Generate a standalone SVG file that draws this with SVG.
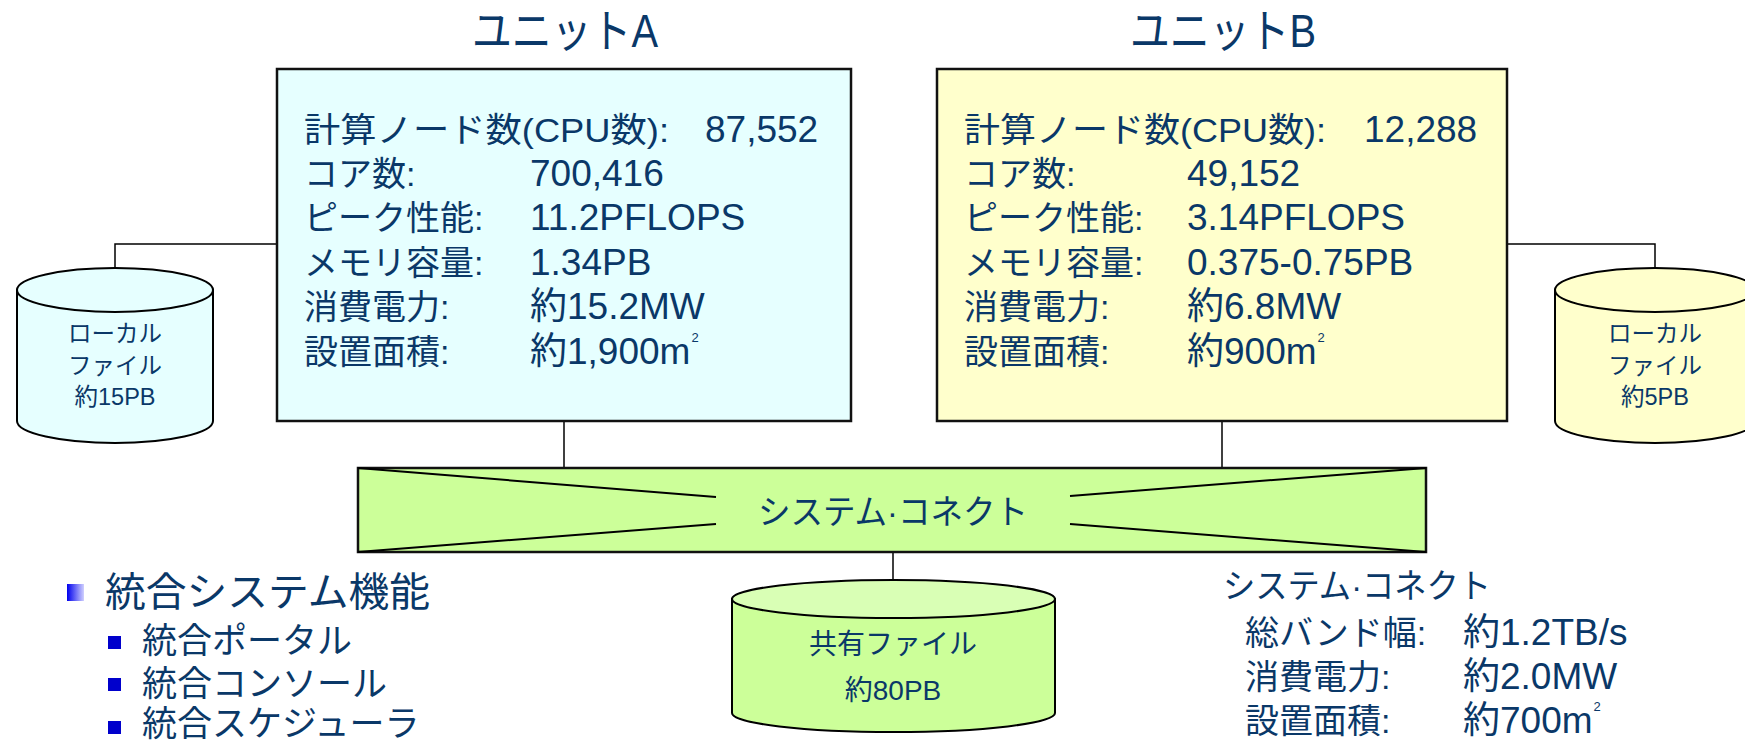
<svg xmlns="http://www.w3.org/2000/svg" width="1745" height="742" viewBox="0 0 1745 742">
<style>
text{font-family:"Liberation Sans","Noto Sans CJK JP",sans-serif;fill:#0a3868}
.t{font-size:46px;text-anchor:middle}
.b{font-size:34px}
.v{font-size:37px}
.c{font-size:23.5px;text-anchor:middle}
.box{stroke:#111;stroke-width:2.5}
.cyl{stroke:#000;stroke-width:2}
.ln{stroke:#000;stroke-width:1.5;fill:none}
.dg{stroke:#000;stroke-width:2;fill:none}
.sup{font-size:13px}
</style>
<defs>
<linearGradient id="bul" x1="0" y1="0" x2="1" y2="0">
<stop offset="0" stop-color="#0000ee"/>
<stop offset="1" stop-color="#d0d0ff"/>
</linearGradient>
</defs>
<g id="connectors">
<polyline class="ln" points="277,244 115,244 115,268"/>
<polyline class="ln" points="1507,244 1655,244 1655,268"/>
<line class="ln" x1="564" y1="421" x2="564" y2="468"/>
<line class="ln" x1="1222" y1="421" x2="1222" y2="468"/>
<line class="ln" x1="893" y1="552" x2="893" y2="580"/>
</g>
<g id="unitA">
<text class="t" x="565" y="47" textLength="186" lengthAdjust="spacingAndGlyphs">ユニットA</text>
<rect class="box" x="277" y="69" width="574" height="352" fill="#e6ffff"/>
<text class="b" x="304" y="142" textLength="365" lengthAdjust="spacingAndGlyphs">計算ノード数(CPU数):</text>
<text class="v" x="705" y="142">87,552</text>
<text class="b" x="304" y="186">コア数:</text>
<text class="v" x="530" y="186">700,416</text>
<text class="b" x="304" y="230">ピーク性能:</text>
<text class="v" x="530" y="230">11.2PFLOPS</text>
<text class="b" x="304" y="275">メモリ容量:</text>
<text class="v" x="530" y="275">1.34PB</text>
<text class="b" x="304" y="319">消費電力:</text>
<text class="v" x="530" y="319">約15.2MW</text>
<text class="b" x="304" y="364">設置面積:</text>
<text class="v" x="530" y="364">約1,900m<tspan class="sup" dx="1" dy="-22">2</tspan></text>
</g>
<g id="unitB">
<text class="t" x="1223" y="47" textLength="186" lengthAdjust="spacingAndGlyphs">ユニットB</text>
<rect class="box" x="937" y="69" width="570" height="352" fill="#ffffcc"/>
<text class="b" x="964" y="142" textLength="362" lengthAdjust="spacingAndGlyphs">計算ノード数(CPU数):</text>
<text class="v" x="1364" y="142">12,288</text>
<text class="b" x="964" y="186">コア数:</text>
<text class="v" x="1187" y="186">49,152</text>
<text class="b" x="964" y="230">ピーク性能:</text>
<text class="v" x="1187" y="230">3.14PFLOPS</text>
<text class="b" x="964" y="275">メモリ容量:</text>
<text class="v" x="1187" y="275">0.375-0.75PB</text>
<text class="b" x="964" y="319">消費電力:</text>
<text class="v" x="1187" y="319">約6.8MW</text>
<text class="b" x="964" y="364">設置面積:</text>
<text class="v" x="1187" y="364">約900m<tspan class="sup" dx="1" dy="-22">2</tspan></text>
</g>
<g id="localA">
<path class="cyl" d="M17,290 L17,421 A98,22 0 0 0 213,421 L213,290 Z" fill="#e6ffff"/>
<ellipse class="cyl" cx="115" cy="290" rx="98" ry="22" fill="#e6ffff"/>
<text class="c" x="115" y="342">ローカル</text>
<text class="c" x="115" y="374">ファイル</text>
<text class="c" x="115" y="405">約15PB</text>
</g>
<g id="localB">
<path class="cyl" d="M1555,290 L1555,421 A100,22 0 0 0 1755,421 L1755,290 Z" fill="#ffffcc"/>
<ellipse class="cyl" cx="1655" cy="290" rx="100" ry="22" fill="#ffffcc"/>
<text class="c" x="1655" y="342">ローカル</text>
<text class="c" x="1655" y="374">ファイル</text>
<text class="c" x="1655" y="405">約5PB</text>
</g>
<g id="systemConnect">
<rect class="box" x="358" y="468" width="1068" height="84" fill="#ccff99"/>
<polyline class="dg" points="358,468 716,497"/>
<polyline class="dg" points="358,552 716,524"/>
<polyline class="dg" points="1426,468 1070,496"/>
<polyline class="dg" points="1426,552 1070,524"/>
<text x="893" y="524" style="font-size:34px;text-anchor:middle" textLength="270" lengthAdjust="spacingAndGlyphs">システム·コネクト</text>
</g>
<g id="sharedFile">
<path class="cyl" d="M732,599 L732,713 A161.5,19 0 0 0 1055,713 L1055,599 Z" fill="#ccff99"/>
<ellipse class="cyl" cx="893.5" cy="599" rx="161.5" ry="19" fill="#d9ffb5"/>
<text x="893" y="654" style="font-size:28px;text-anchor:middle">共有ファイル</text>
<text x="893" y="700" style="font-size:28px;text-anchor:middle">約80PB</text>
</g>
<g id="features">
<rect x="67" y="584" width="17" height="17" fill="url(#bul)"/>
<text x="105" y="606" style="font-size:40px" textLength="325" lengthAdjust="spacingAndGlyphs">統合システム機能</text>
<rect x="108" y="636" width="13" height="13" fill="#0000cc"/>
<text x="142" y="653" style="font-size:35px">統合ポータル</text>
<rect x="108" y="678" width="13" height="13" fill="#0000cc"/>
<text x="142" y="696" style="font-size:35px">統合コンソール</text>
<rect x="108" y="721" width="13" height="13" fill="#0000cc"/>
<text x="142" y="736" style="font-size:35px">統合スケジューラ</text>
</g>
<g id="connectSpec">
<text x="1223" y="598" style="font-size:34px" textLength="268" lengthAdjust="spacingAndGlyphs">システム·コネクト</text>
<text class="b" x="1245" y="645">総バンド幅:</text>
<text class="v" x="1463" y="645">約1.2TB/s</text>
<text class="b" x="1245" y="689">消費電力:</text>
<text class="v" x="1463" y="689">約2.0MW</text>
<text class="b" x="1245" y="733">設置面積:</text>
<text class="v" x="1463" y="733">約700m<tspan class="sup" dx="1" dy="-22">2</tspan></text>
</g>
</svg>
